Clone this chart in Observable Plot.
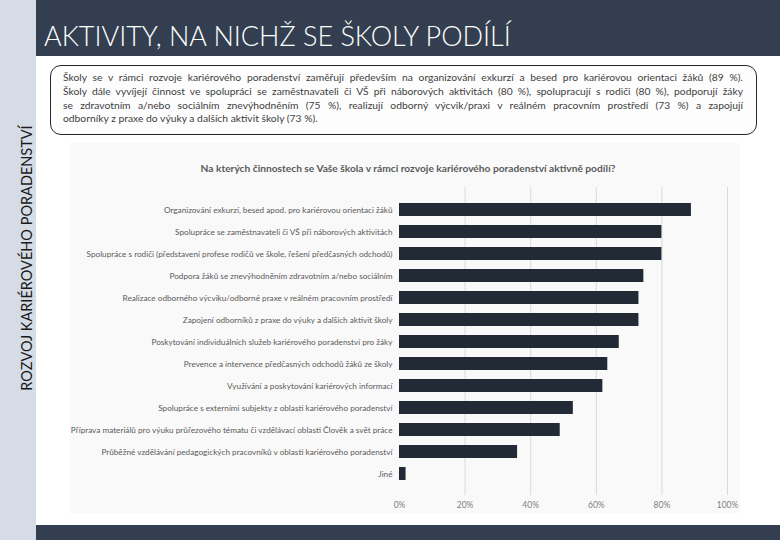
<!DOCTYPE html>
<html>
<head>
<meta charset="utf-8">
<script src="https://cdn.jsdelivr.net/npm/d3@7"></script>
<script src="https://cdn.jsdelivr.net/npm/@observablehq/plot@0.6"></script>
<style>
  html, body { margin: 0; padding: 0; }
  body { width: 780px; height: 540px; position: relative; overflow: hidden; background: #ffffff; font-family: Lato, "Open Sans", sans-serif; }
  #strip { position: absolute; left: 0; top: 0; width: 36px; height: 540px; background: #d6dce5; }
  #header { position: absolute; left: 36px; top: 0; width: 744px; height: 56px; background: #333f50; }
  #title { position: absolute; left: 44px; top: 19px; color: #ffffff; font-size: 27px; font-weight: 300; line-height: normal; white-space: nowrap; }
  #footer { position: absolute; left: 36px; top: 525px; width: 744px; height: 15px; background: #333f50; }
  #side { position: absolute; left: 26px; top: 258px; transform: translate(-50%, -50%) rotate(-90deg); font-size: 14.5px; color: #1a1a1a; white-space: nowrap; }
  #box { position: absolute; left: 50px; top: 65px; width: 705px; height: 68px; border: 1.6px solid #262626; border-radius: 11px; background: #fdfdfd; }
  #boxtext { position: absolute; left: 63px; top: 71px; width: 680px; font-size: 10.3px; color: #404040; line-height: 13.8px; }
  .jl { text-align: justify; text-align-last: justify; white-space: nowrap; }
  .ll { text-align: left; white-space: nowrap; }
  #panel { position: absolute; left: 70px; top: 143px; width: 670px; height: 370px; background: #f9f9f9; }
  #ctitle { position: absolute; left: 408px; top: 162px; transform: translateX(-50%); font-size: 10.2px; font-weight: 700; color: #595959; white-space: nowrap; }
  #chart { position: absolute; left: 36px; top: 143px; }
</style>
</head>
<body>
<div id="strip"></div>
<div id="header"></div>
<div id="title">AKTIVITY, NA NICHŽ SE ŠKOLY PODÍLÍ</div>
<div id="side">ROZVOJ KARIÉROVÉHO PORADENSTVÍ</div>
<div id="box"></div>
<div id="boxtext"></div>
<div id="panel"></div>
<div id="ctitle">Na kterých činnostech se Vaše škola v rámci rozvoje kariérového poradenství  aktivně podílí?</div>
<div id="chart"></div>
<div id="footer"></div>
<script>
const categories = [
  "Organizování exkurzí, besed apod. pro kariérovou orientaci žáků",
  "Spolupráce se zaměstnavateli či VŠ při náborových aktivitách",
  "Spolupráce s rodiči (představení profese rodičů ve škole, řešení předčasných odchodů)",
  "Podpora žáků se znevýhodněním zdravotním a/nebo sociálním",
  "Realizace odborného výcviku/odborné praxe v reálném pracovním prostředí",
  "Zapojení odborníků z praxe do výuky a dalších aktivit školy",
  "Poskytování individuálních služeb kariérového poradenství pro žáky",
  "Prevence a intervence předčasných odchodů žáků ze školy",
  "Využívání a poskytování kariérových informací",
  "Spolupráce s externími subjekty z oblasti kariérového poradenství",
  "Příprava materiálů pro výuku průřezového tématu či vzdělávací oblasti Člověk a svět práce",
  "Průběžné vzdělávání pedagogických pracovníků v oblasti kariérového poradenství",
  "Jiné"
];
const values = [89, 80, 80, 74.5, 73, 73, 67, 63.5, 62, 53, 49, 36, 2];
const xTicks = [0, 20, 40, 60, 80, 100];
const gridTicks = [20, 40, 60, 80, 100];

const summaryLines = [
  "Školy se v rámci rozvoje kariérového poradenství zaměřují především na organizování exkurzí a besed pro kariérovou orientaci žáků (89 %).",
  "Školy dále vyvíjejí činnost ve spolupráci se zaměstnavateli či VŠ při náborových aktivitách (80 %), spolupracují s rodiči (80 %), podporují žáky",
  "se zdravotním a/nebo sociálním znevýhodněním (75 %), realizují odborný výcvik/praxi v reálném pracovním prostředí (73 %) a zapojují",
  "odborníky z praxe do výuky a dalších aktivit školy (73 %)."
];

const bt = document.getElementById("boxtext");
summaryLines.forEach((t, i) => {
  const d = document.createElement("div");
  d.className = i < summaryLines.length - 1 ? "jl" : "ll";
  d.textContent = t;
  bt.appendChild(d);
});

const data = categories.map((c, i) => ({category: c, value: values[i]}));

const chart = Plot.plot({
  width: 744,
  height: 370,
  marginLeft: 363,
  marginRight: 53,
  marginTop: 44,
  marginBottom: 18,
  style: {background: "transparent", fontFamily: "Lato, 'Open Sans', sans-serif"},
  x: {domain: [0, 100], label: null},
  y: {domain: categories, padding: 0.41, label: null},
  marks: [
    Plot.gridX(gridTicks, {stroke: "#d9d9d9", strokeOpacity: 1, strokeWidth: 1}),
    Plot.barX(data, {x: "value", y: "category", fill: "#222a35"}),
    Plot.axisY({tickSize: 0, tickPadding: 7, fontSize: 8.2, fill: "#595959", label: null}),
    Plot.axisX({ticks: xTicks, tickSize: 0, tickPadding: 6, fontSize: 8.5, fill: "#7f7f7f", tickFormat: d => d + "%", label: null})
  ]
});
document.getElementById("chart").appendChild(chart);
</script>
</body>
</html>
